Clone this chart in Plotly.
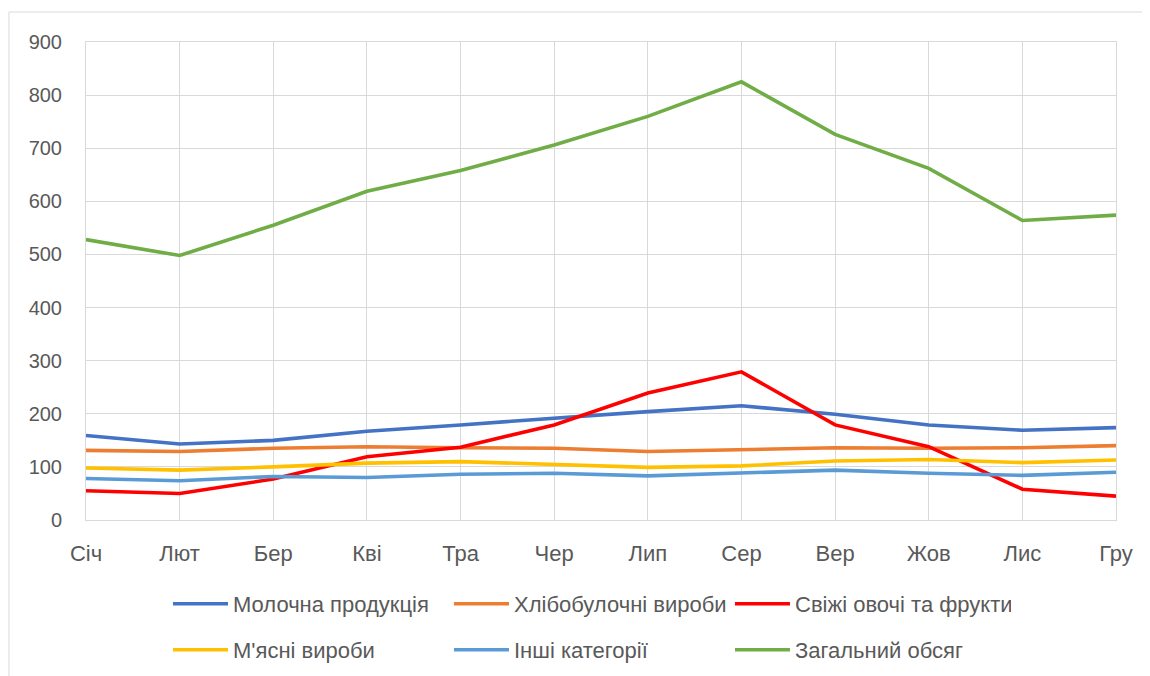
import plotly.graph_objects as go

months = ["Січ", "Лют", "Бер", "Кві", "Тра", "Чер", "Лип", "Сер", "Вер", "Жов", "Лис", "Гру"]

dairy = [159, 143, 150, 167, 179, 192, 204, 215, 199, 179, 169, 174]
bakery = [131, 129, 135, 138, 136, 135, 129, 133, 136, 135, 136, 140]
fresh = [55, 50, 77, 119, 137, 179, 239, 279, 179, 138, 58, 45]
meat = [98, 94, 100, 107, 110, 104, 99, 102, 111, 114, 108, 113]
other = [78, 74, 82, 80, 86, 88, 83, 88, 94, 88, 84, 90]
total = [528, 498, 555, 619, 658, 706, 760, 825, 726, 662, 564, 574]

series = [
    ("Молочна продукція", dairy, "#4472C4", "legend"),
    ("Хлібобулочні вироби", bakery, "#ED7D31", "legend"),
    ("Свіжі овочі та фрукти", fresh, "#FF0000", "legend"),
    ("М'ясні вироби", meat, "#FFC000", "legend2"),
    ("Інші категорії", other, "#5B9BD5", "legend2"),
    ("Загальний обсяг", total, "#70AD47", "legend2"),
]

FONT = "Liberation Sans"
TXT = "#595959"
GRID = "#D9D9D9"

fig = go.Figure()
for name, vals, color, leg in series:
    fig.add_trace(go.Scatter(
        x=months, y=vals, name=name, mode="lines",
        line=dict(color=color, width=3.6),
        legend=leg,
    ))

legend_common = dict(
    orientation="h", xanchor="left", yanchor="middle",
    entrywidth=211, entrywidthmode="pixels",
    font=dict(family=FONT, size=22, color=TXT),
    bgcolor="rgba(0,0,0,0)", itemwidth=55,
    tracegroupgap=0,
)

# page body has an 8px default margin; figure sized to fill the rest
fig.update_layout(
    width=1142, height=668,
    margin=dict(l=78, r=34, t=34, b=156, autoexpand=False),
    paper_bgcolor="white", plot_bgcolor="white",
    font=dict(family=FONT, size=20, color=TXT),
    legend=dict(x=0.0796, y=-0.1757, **legend_common),
    legend2=dict(x=0.0796, y=-0.272, **legend_common),
    xaxis=dict(
        type="category", range=[0, 11],
        showgrid=True, gridcolor=GRID, gridwidth=1,
        showline=True, linecolor=GRID, linewidth=1, mirror=True,
        ticks="", ticklabelstandoff=14,
        tickfont=dict(family=FONT, size=22, color=TXT),
        fixedrange=True,
    ),
    yaxis=dict(
        range=[0, 900], dtick=100,
        showgrid=True, gridcolor=GRID, gridwidth=1,
        showline=True, linecolor=GRID, linewidth=1, mirror=True,
        zeroline=False,
        ticks="", ticklabelstandoff=19,
        tickfont=dict(family=FONT, size=20, color=TXT),
        fixedrange=True,
    ),
    shapes=[dict(
        type="rect", xref="paper", yref="paper",
        x0=-0.0748, x1=1.2, y0=-0.5, y1=1.0628,
        line=dict(color=GRID, width=1), fillcolor="rgba(0,0,0,0)",
        layer="below",
    )],
)

fig.write_html("out.html")
